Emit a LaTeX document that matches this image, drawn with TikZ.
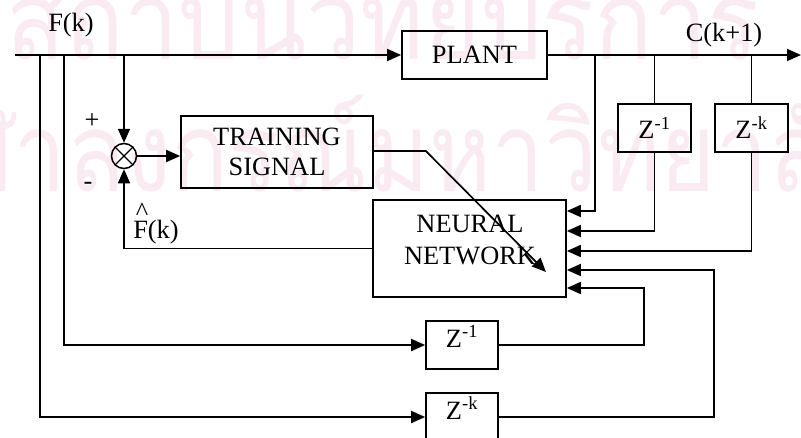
\documentclass[tikz,border=0pt]{standalone}
\usepackage{fontspec}
\setmainfont{Liberation Serif}
\newfontfamily\thaifont[Script=Thai]{Loma}
\usetikzlibrary{arrows.meta,calc}
\definecolor{wmpink}{RGB}{250,235,242}
\begin{document}
\begin{tikzpicture}[x=1pt,y=-1pt,
  every node/.style={font=\fontsize{26.4}{30}\selectfont},
  blk/.style={draw,line width=1.7pt,inner sep=0pt},
  wire/.style={line width=1.7pt},
  arr/.style={wire,-{Triangle[length=14pt,width=12pt]}},
  wmtext/.style={text=wmpink,inner sep=0pt,anchor=base,
    font=\thaifont\fontsize{110}{110}\selectfont},
]
\useasboundingbox (0,0) rectangle (801,437);

% institutional watermark
\node[wmtext] (wmA) at (383,59) {\scalebox{0.88}[1]{สถาบันวิทยบริการ}};
\node[wmtext] (wmB) at (388,191) {\scalebox{0.86}[1]{จุฬาลงกรณ์มหาวิทยาลัย}};

% blocks
\node[blk,minimum width=145pt,minimum height=48pt] (plant) at (474.5,55) {PLANT};
\node[blk,minimum width=192pt,minimum height=72pt,align=center] (ts) at (277,152) {TRAINING\\SIGNAL};
\node[blk,minimum width=193pt,minimum height=97pt] (nn) at (469.5,248.5) {};
\node[align=center,font=\fontsize{26.4}{32}\selectfont] (nntext) at (470,240) {NEURAL\\NETWORK};
\node[blk,minimum width=73pt,minimum height=48pt] (z1a) at (654.5,128) {Z\textsuperscript{-1}};
\node[blk,minimum width=73pt,minimum height=48pt] (zka) at (751.5,128) {Z\textsuperscript{-k}};
\node[blk,minimum width=72pt,minimum height=48pt,text height=22pt,text depth=18pt] (z1b) at (462,345) {Z\textsuperscript{-1}};
\node[blk,minimum width=72pt,minimum height=48pt,text height=22pt,text depth=18pt] (zkb) at (462,417) {Z\textsuperscript{-k}};

% summing junction
\node[draw,circle,line width=1.5pt,minimum size=25pt,inner sep=0pt] (sum) at (124,156) {};
\draw[line width=1.2pt] (sum.north east) -- (sum.south west) (sum.north west) -- (sum.south east);

% signal labels
\node (fk) at (71,25) {F(k)};
\node (ck) at (724,35) {C(k+1)};
\node (plus) at (92,121) {+};
\node (minus) at (88,186) {-};
\node (fhat) at (156,232) {F(k)};
\node (hat) at (142,212) {\textasciicircum};

% main signal path
\coordinate (in) at (15,55);
\coordinate (out) at (801,55);
\coordinate (t40) at (40,55);
\coordinate (t64) at (64,55);
\coordinate (t124) at (124,55);
\coordinate (t595) at (595,55);
\coordinate (t655) at (654.5,55);
\coordinate (t751) at (751.5,55);
\coordinate (tsTip) at (546,272);

\draw[arr] (in) -- (plant.west);
\draw[arr] (plant.east) -- (out);

% error computation
\draw[arr] (t124) -- (sum.north);
\draw[arr] (sum.east) -- (sum.east -| ts.west);
\draw[arr] (nn.west) -| (sum.south);
\draw[arr] (ts.east |- 0,151) -- ++(52,0) -- (tsTip);

% network inputs
\draw[arr] (t595) |- (nn.east |- 0,211);
\draw[wire] (t655) -- (z1a.north);
\draw[arr] (z1a.south) |- (nn.east |- 0,231);
\draw[wire] (t751) -- (zka.north);
\draw[arr] (zka.south) |- (nn.east |- 0,251);
\draw[arr] (t64) |- (z1b.west);
\draw[arr] (t40) |- (zkb.west);
\draw[arr] (zkb.east) -- ++(215,0) |- (nn.east |- 0,270);
\draw[arr] (z1b.east) -- ++(145,0) |- (nn.east |- 0,288);
\end{tikzpicture}
\end{document}
